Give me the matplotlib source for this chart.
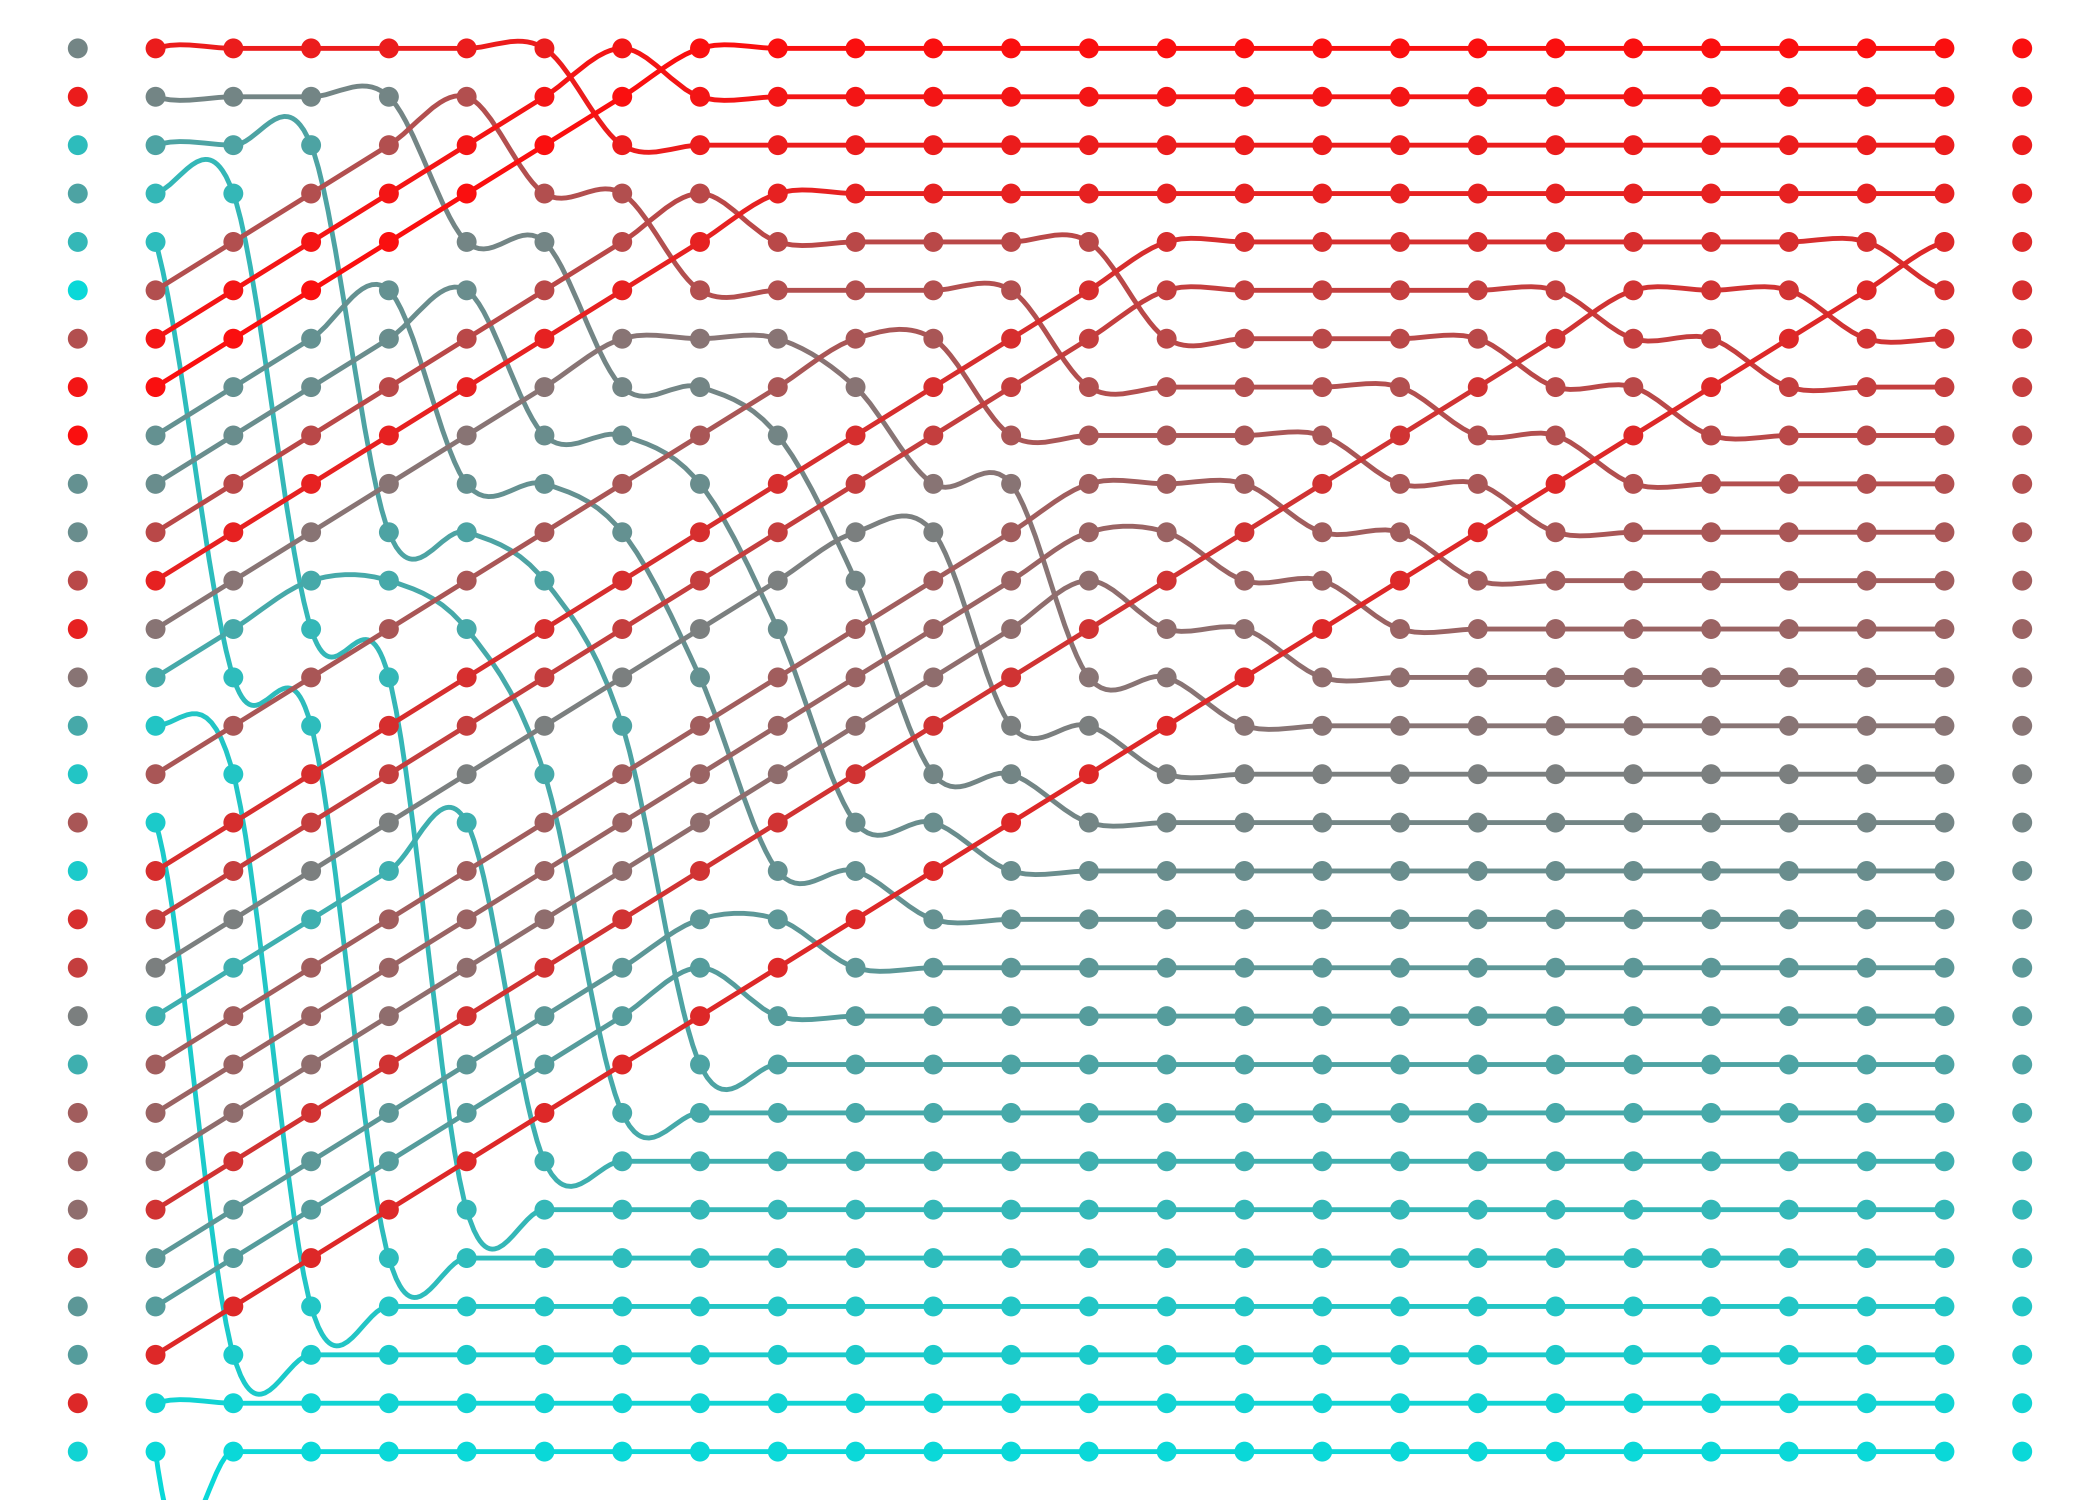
import matplotlib
matplotlib.use("Agg")
import matplotlib.pyplot as plt
from matplotlib.path import Path
from matplotlib.patches import PathPatch
from matplotlib.colors import LinearSegmentedColormap

# Initial array (left-hand column, top to bottom). Each value is read from the
# dot colour: 0 = red end of the scale, 1 = cyan end.
initial_values = [0.54, 0.08, 0.82, 0.69, 0.79, 0.96, 0.30, 0.05, 0.02, 0.60,
                  0.58, 0.27, 0.10, 0.46, 0.72, 0.86, 0.33, 0.89, 0.16, 0.23,
                  0.51, 0.75, 0.36, 0.39, 0.43, 0.18, 0.63, 0.66, 0.13, 0.93]
color_stops = ["#ff0a0a", "#7d7d7d", "#00e0e0"]


def bubble_sort_states(vals):
    """States of the array: initial, after every bubble-sort pass that swapped, final."""
    arr = list(range(len(vals)))
    states = [arr.copy()]
    n = len(arr)
    while True:
        swapped = False
        for j in range(n - 1):
            if vals[arr[j]] > vals[arr[j + 1]]:
                arr[j], arr[j + 1] = arr[j + 1], arr[j]
                swapped = True
        if not swapped:
            break
        states.append(arr.copy())
    states.append(sorted(range(n), key=lambda i: vals[i]))
    return states


states = bubble_sort_states(initial_values)
n_el = len(initial_values)
n_col = len(states)
pos = [[st.index(e) for st in states] for e in range(n_el)]

cmap = LinearSegmentedColormap.from_list("redcyan", color_stops)

fig = plt.figure(figsize=(21, 15), dpi=100)
ax = fig.add_axes([0, 0, 1, 1])
ax.set_xlim(-1, n_col)
ax.set_ylim(n_el, -1)
ax.axis("off")

for e in range(n_el):
    col = cmap(initial_values[e])
    P = [(c, pos[e][c]) for c in range(n_col)]
    verts = [P[1]]
    codes = [Path.MOVETO]
    for i in range(1, n_col - 2):
        p0, p1, p2, p3 = P[i - 1], P[i], P[i + 1], P[i + 2]
        c1 = (p1[0] + (p2[0] - p0[0]) / 6.0, p1[1] + (p2[1] - p0[1]) / 6.0)
        c2 = (p2[0] - (p3[0] - p1[0]) / 6.0, p2[1] - (p3[1] - p1[1]) / 6.0)
        verts += [c1, c2, p2]
        codes += [Path.CURVE4] * 3
    ax.add_patch(PathPatch(Path(verts, codes), facecolor="none", edgecolor=col,
                           lw=3.5, zorder=2, capstyle="round", joinstyle="round"))

for e in range(n_el):
    col = cmap(initial_values[e])
    xs = list(range(n_col))
    ys = pos[e]
    ax.scatter(xs, ys, s=205, color=col, edgecolors="none", zorder=3)

fig.savefig("out.png", dpi=100, facecolor="white")
